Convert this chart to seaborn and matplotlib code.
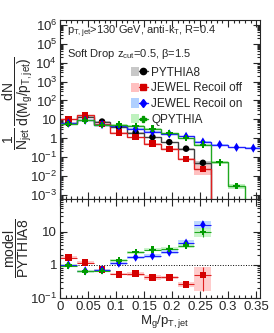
import numpy as np
import pandas as pd
import matplotlib
matplotlib.use("Agg")
import matplotlib.pyplot as plt
import seaborn as sns
from matplotlib.patches import Patch, Rectangle
from matplotlib.lines import Line2D
from matplotlib.legend_handler import HandlerTuple
from matplotlib.ticker import LogLocator, MultipleLocator, FuncFormatter, NullFormatter

# bin edges in M_g/p_T,jet
edges = np.round(np.arange(0, 0.361, 0.03), 3)
centers = (edges[:-1] + edges[1:]) / 2

# upper panel: normalised distributions
pythia = [6.2, 13.8, 7.6, 4.0, 2.0, 1.15, 0.62, 0.28, 0.05]
jewel_off = [10.6, 16.0, 5.5, 2.0, 1.15, 0.51, 0.27, 0.08, 0.024]
jewel_on = [6.2, 9.0, 5.3, 4.5, 3.2, 2.2, 1.7, 1.25, 0.63, 0.46, 0.33, 0.30]
qpythia = [5.8, 8.7, 5.0, 5.3, 4.6, 3.2, 1.85, 1.0, 0.46, 0.053, 0.0029]

# relative systematic uncertainties (upper panel boxes)
pythia_rel = [0.03, 0.03, 0.03, 0.03, 0.03, 0.04, 0.05, 0.08, 0.2]
jewel_off_rel = [0.04, 0.04, 0.04, 0.04, 0.05, 0.06, 0.08, 0.1, 0.55]
jewel_on_rel = [0.03, 0.03, 0.03, 0.03, 0.04, 0.04, 0.05, 0.06, 0.08, 0.1, 0.1, 0.1]
qpythia_rel = [0.04, 0.04, 0.04, 0.04, 0.05, 0.05, 0.06, 0.08, 0.1, 0.2, 0.3]

# lower panel: model / PYTHIA8
ratio_off = [1.66, 1.17, 0.72, 0.52, 0.54, 0.42, 0.42, 0.26, 0.5]
ratio_on = [1.0, 0.66, 0.7, 1.12, 1.7, 1.87, 2.4, 4.5, 16.0]
ratio_q = [0.95, 0.63, 0.66, 1.35, 2.4, 2.85, 3.05, 3.8, 10.0]
ratio_off_err = [0.15, 0.1, 0.05, 0.04, 0.08, 0.06, 0.05, 0.04, 0.34]
ratio_on_err = [0.08, 0.06, 0.06, 0.1, 0.2, 0.25, 0.35, 1.1, 4.4]
ratio_q_err = [0.08, 0.06, 0.06, 0.12, 0.25, 0.3, 0.35, 0.5, 3.2]

labels = ["PYTHIA8", "JEWEL Recoil off", "JEWEL Recoil on", "QPYTHIA"]
colors = {"PYTHIA8": "black", "JEWEL Recoil off": "#d40000",
          "JEWEL Recoil on": "#0000ff", "QPYTHIA": "#009a00"}
lines = {"PYTHIA8": "#404040", "JEWEL Recoil off": "#e02020",
         "JEWEL Recoil on": "#2020ff", "QPYTHIA": "#20a820"}
bands = {"PYTHIA8": "#c8c8c8", "JEWEL Recoil off": "#ffc0c0",
         "JEWEL Recoil on": "#b0d0ff", "QPYTHIA": "#bff2bf"}
markers = {"PYTHIA8": "o", "JEWEL Recoil off": "s",
           "JEWEL Recoil on": "d", "QPYTHIA": "P"}

sns.set_style("ticks")
plt.rcParams["font.family"] = ["Liberation Sans", "DejaVu Sans"]
plt.rcParams["mathtext.fontset"] = "custom"
plt.rcParams["mathtext.rm"] = "Liberation Sans"
plt.rcParams["mathtext.it"] = "Liberation Sans"
plt.rcParams["mathtext.bf"] = "Liberation Sans:bold"
plt.rcParams["mathtext.sf"] = "Liberation Sans"

fig = plt.figure(figsize=(2.74, 3.33), dpi=100)
ax1 = fig.add_axes([0.219, 0.402, 0.730, 0.538])
ax2 = fig.add_axes([0.219, 0.105, 0.730, 0.297], sharex=ax1)

upper = {"PYTHIA8": (pythia, pythia_rel),
         "JEWEL Recoil off": (jewel_off, jewel_off_rel),
         "JEWEL Recoil on": (jewel_on, jewel_on_rel),
         "QPYTHIA": (qpythia, qpythia_rel)}

rows = []
for name in labels:
    vals, rel = upper[name]
    n = len(vals)
    for i in range(n):
        lo, hi = vals[i] * (1 - rel[i]), vals[i] * (1 + rel[i])
        ax1.add_patch(Rectangle((edges[i], lo), edges[i + 1] - edges[i], hi - lo,
                                facecolor=bands[name], edgecolor="none", zorder=1))
    ax1.stairs(vals, edges[:n + 1], baseline=1e-9, color=lines[name], lw=1.0, zorder=2)
    for i in range(n):
        rows.append({"x": centers[i], "y": vals[i], "model": name})
df_up = pd.DataFrame(rows)
sns.scatterplot(data=df_up, x="x", y="y", hue="model", style="model",
                palette=colors, markers=markers, s=22, linewidth=0,
                legend=False, zorder=4, ax=ax1)

# ratios
ratio = {"JEWEL Recoil off": (ratio_off, ratio_off_err),
         "JEWEL Recoil on": (ratio_on, ratio_on_err),
         "QPYTHIA": (ratio_q, ratio_q_err)}
rows = []
for name, (vals, err) in ratio.items():
    n = len(vals)
    for i in range(n):
        ax2.add_patch(Rectangle((edges[i], vals[i] - err[i]), edges[i + 1] - edges[i],
                                2 * err[i], facecolor=bands[name], edgecolor="none",
                                alpha=0.8, zorder=1))
        rows.append({"x": centers[i], "y": vals[i], "model": name})
    ax2.errorbar(centers[:n], vals, xerr=0.015, yerr=err, fmt="none",
                 ecolor=lines[name], elinewidth=0.8, zorder=2)
df_lo = pd.DataFrame(rows)
sns.scatterplot(data=df_lo, x="x", y="y", hue="model", style="model",
                palette=colors, markers=markers, s=22, linewidth=0,
                legend=False, zorder=4, ax=ax2)
ax2.axhline(1, color="black", ls=":", lw=0.7, zorder=0)


def log_fmt(v, pos):
    e = int(round(np.log10(v)))
    if e == 0:
        return "1"
    if e == 1:
        return "10"
    return r"$10^{%d}$" % e


for ax in (ax1, ax2):
    ax.set_yscale("log")
    ax.set_xlim(0, 0.357)
    ax.xaxis.set_major_locator(MultipleLocator(0.05))
    ax.xaxis.set_minor_locator(MultipleLocator(0.01))
    ax.yaxis.set_major_locator(LogLocator(base=10, numticks=20))
    ax.yaxis.set_minor_locator(LogLocator(base=10, subs=np.arange(2, 10), numticks=20))
    ax.yaxis.set_major_formatter(FuncFormatter(log_fmt))
    ax.yaxis.set_minor_formatter(NullFormatter())
    ax.tick_params(which="both", direction="in", top=True, right=True,
                   labelsize=9.5, width=0.8, pad=2)
    ax.tick_params(which="major", length=5)
    ax.tick_params(which="minor", length=2.5)
    ax.set_xlabel("")
    ax.set_ylabel("")
    for s in ax.spines.values():
        s.set_linewidth(0.8)

ax1.set_ylim(6e-4, 1.8e6)
ax2.set_ylim(0.1, 95)
ax1.tick_params(labelbottom=False)
ax2.xaxis.set_major_formatter(FuncFormatter(lambda v, p: "0" if v == 0 else ("%g" % v)))

# annotation texts
fig.text(0.245, 0.905, r"$p_{\rm T,jet}$>130 GeV, anti-$k_{\rm T}$, R=0.4", fontsize=8, va="center")
fig.text(0.245, 0.838, r"Soft Drop $z_{\rm cut}$=0.5, β=1.5", fontsize=8, va="center")

handles = [(Patch(facecolor=bands[n], edgecolor="none"),
            Line2D([], [], color=lines[n], marker=markers[n], markerfacecolor=colors[n],
                   markeredgecolor=colors[n], markersize=4.5, lw=1.0)) for n in labels]
ax1.legend(handles, labels, handler_map={tuple: HandlerTuple(ndivide=None)},
           loc="upper left", bbox_to_anchor=(0.355, 0.74), frameon=False,
           fontsize=8.5, handlelength=1.4, handleheight=0.8, labelspacing=0.32,
           handletextpad=0.3, borderaxespad=0, borderpad=0)

fig.text(0.065, 0.69, r"$\dfrac{1}{N_{\rm jet}}\,\dfrac{dN}{d(M_{\rm g}/p_{\rm T,jet})}$",
         rotation=90, fontsize=10, ha="center", va="center")
fig.text(0.058, 0.255, r"$\dfrac{\rm model}{\rm PYTHIA8}$", rotation=90,
         fontsize=10, ha="center", va="center")
fig.text(0.60, 0.036, r"$M_{\rm g}/p_{\rm T,jet}$", fontsize=9.5, ha="center", va="center")

fig.savefig("out.png", dpi=100)
